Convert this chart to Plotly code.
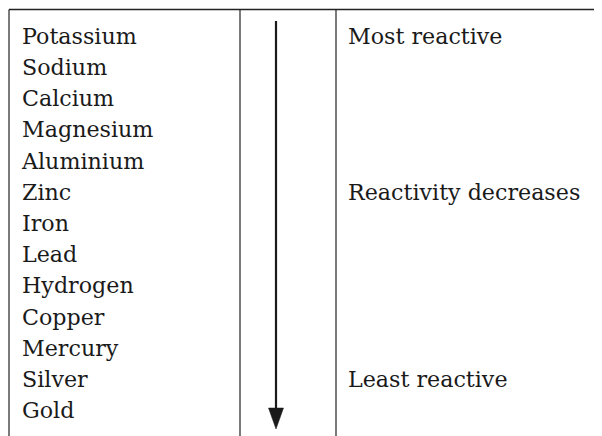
import plotly.graph_objects as go

# ---- data ----
elements = ["Potassium", "Sodium", "Calcium", "Magnesium", "Aluminium", "Zinc",
            "Iron", "Lead", "Hydrogen", "Copper", "Mercury", "Silver", "Gold"]
note_rows = [0, 5, 11]
note_texts = ["Most reactive", "Reactivity decreases", "Least reactive"]

# ---- layout geometry (page pixels; page body has an 8px margin) ----
W, H = 602, 436
BODY = 8
top_y = 9.5
col_x = [9, 240, 336]
first_base = 46
pitch = 31.2
fs = 22.2
FONT = "DejaVu Serif"
mid_shift = 0.35 * fs
arrow_x = 276
arrow_top = 21
arrow_tip = 429
head_len = 21
head_half = 7.5

row_y = [first_base + i * pitch - mid_shift for i in range(len(elements))]

fig = go.Figure()
fig.add_trace(go.Scatter(
    x=[22] * len(elements), y=row_y, text=elements, mode="text",
    textposition="middle right",
    textfont=dict(family=FONT, size=fs, color="#1a1a1a"),
    hoverinfo="skip", showlegend=False))
fig.add_trace(go.Scatter(
    x=[348] * len(note_rows), y=[row_y[r] for r in note_rows], text=note_texts,
    mode="text", textposition="middle right",
    textfont=dict(family=FONT, size=fs, color="#1a1a1a"),
    hoverinfo="skip", showlegend=False))

shapes = []
shapes.append(dict(type="line", x0=col_x[0], x1=W, y0=top_y, y1=top_y,
                   line=dict(color="#222", width=1.5)))
for cx in col_x:
    shapes.append(dict(type="line", x0=cx, x1=cx, y0=top_y, y1=H,
                       line=dict(color="#222", width=1.2)))
shapes.append(dict(type="line", x0=arrow_x, x1=arrow_x, y0=arrow_top,
                   y1=arrow_tip - head_len + 2, line=dict(color="#1a1a1a", width=2.2)))
hb = arrow_tip - head_len
shapes.append(dict(type="path",
                   path=f"M {arrow_x - head_half},{hb} L {arrow_x + head_half},{hb} L {arrow_x},{arrow_tip} Z",
                   fillcolor="#1a1a1a", line=dict(color="#1a1a1a", width=0.5)))

fig.update_layout(
    width=W - BODY, height=H - BODY, margin=dict(l=0, r=0, t=0, b=0),
    paper_bgcolor="white", plot_bgcolor="white",
    font=dict(family=FONT),
    xaxis=dict(range=[BODY, W], visible=False, fixedrange=True),
    yaxis=dict(range=[H, BODY], visible=False, fixedrange=True),
    shapes=shapes,
)
fig.write_html("out.html")
